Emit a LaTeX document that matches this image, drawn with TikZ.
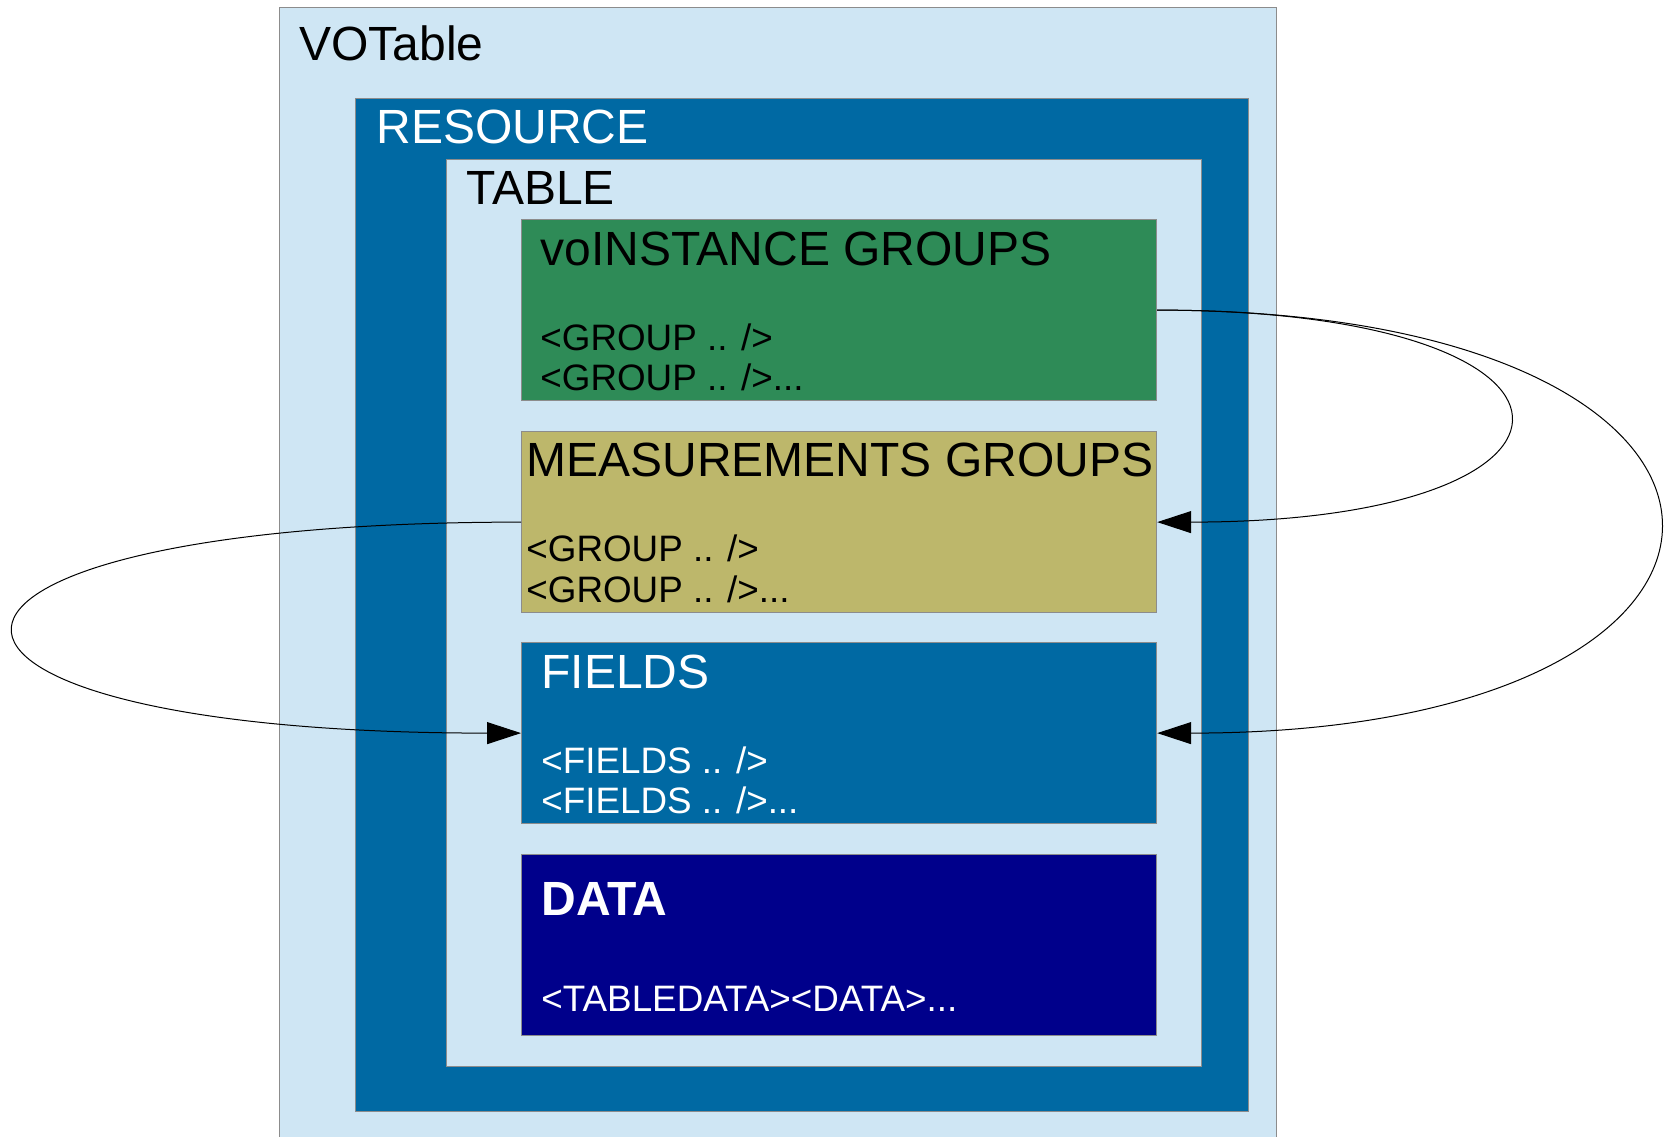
\documentclass[tikz,border=0pt]{standalone}
\usepackage{fontspec}
\setmainfont{Liberation Sans}
\usetikzlibrary{arrows.meta}
\definecolor{lightbox}{HTML}{CFE6F4}
\definecolor{resblue}{HTML}{0069A3}
\definecolor{instgreen}{HTML}{2E8B57}
\definecolor{measkhaki}{HTML}{BDB76B}
\definecolor{datanavy}{HTML}{00008B}
\definecolor{edgegrey}{HTML}{8C8C8C}
\begin{document}
\begin{tikzpicture}[x=0.5pt, y=-0.5pt, >={Triangle[length=17pt,width=11pt]},
        box/.style={draw=edgegrey, line width=0.6pt, inner sep=0pt, anchor=north west},
        inbox/.style={box, minimum width=317.5pt, minimum height=90.5pt},
        title/.style={font=\fontsize{24}{28}\selectfont, anchor=base west, inner sep=0pt},
        entry/.style={font=\fontsize{18.4}{22}\selectfont, anchor=base west, inner sep=0pt}]
                \clip (0,0) rectangle (1669,1136);
                % nested containers
                \node[box, fill=lightbox, minimum width=498.5pt, minimum height=575pt] (votable) at (279,7) {};
                \node[box, fill=resblue, minimum width=446.5pt, minimum height=506.5pt] (resource) at (355,98) {};
                \node[box, fill=lightbox, minimum width=377.5pt, minimum height=453.5pt] (table) at (446,159) {};
                \node[title] (votabletxt) at (299,60) {VOTable};
                \node[title, text=white] (resourcetxt) at (376,143) {RESOURCE};
                \node[title] (tabletxt) at (466,204) {TABLE};
                % inner blocks
                \node[inbox, fill=instgreen] (inst) at (521,219) {};
                \node[inbox, fill=measkhaki] (meas) at (521,431) {};
                \node[inbox, fill=resblue] (fields) at (521,642) {};
                \node[inbox, fill=datanavy] (data) at (521,854) {};
                \node[title] (insttxt) at (540,265) {voINSTANCE GROUPS};
                \node[entry] (instline1) at (540,350) {<GROUP .. />};
                \node[entry] (instline2) at (540,390) {<GROUP .. />...};
                \node[title] (meastxt) at (526,476) {MEASUREMENTS GROUPS};
                \node[entry] (measline1) at (526,561) {<GROUP .. />};
                \node[entry] (measline2) at (526,602) {<GROUP .. />...};
                \node[title, text=white] (fieldstxt) at (541,688) {FIELDS};
                \node[entry, text=white] (fieldsline1) at (541,773) {<FIELDS .. />};
                \node[entry, text=white] (fieldsline2) at (541,813) {<FIELDS .. />...};
                \node[title, text=white, font=\fontsize{24}{28}\selectfont\bfseries] (datatxt) at (541,915) {DATA};
                \node[entry, text=white] (dataline) at (541,1011) {<TABLEDATA><DATA>...};
                % references
                \draw[->, line width=0.5pt] (inst.east) .. controls +(468,0) and +(468,0) .. (meas.east);
                \draw[->, line width=0.5pt] (inst.east) .. controls +(668,0) and +(668,0) .. (fields.east);
                \draw[->, line width=0.5pt] (meas.west) .. controls +(-674,0) and +(-674,0) .. (fields.west);
\end{tikzpicture}
\end{document}
